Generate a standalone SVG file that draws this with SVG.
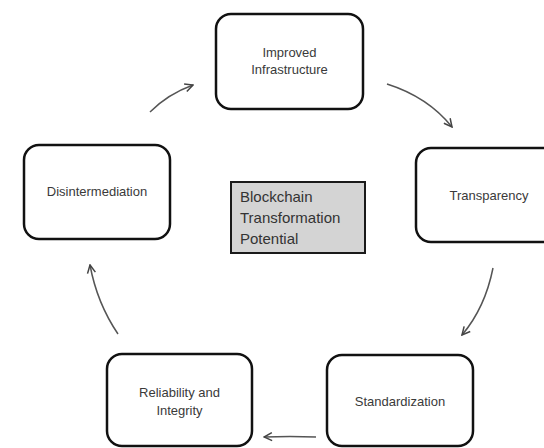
<svg xmlns="http://www.w3.org/2000/svg" width="544" height="448" viewBox="0 0 544 448">
<defs>
<style>
.node rect{fill:#fff;stroke:#111;stroke-width:2.5}
.lbl{font-family:"Liberation Sans",Arial,sans-serif;font-size:13px;fill:#3a3a3a;text-anchor:middle}
.ctr rect{fill:#d4d4d4;stroke:#1a1a1a;stroke-width:2}
.ctr text{font-family:"Liberation Sans",Arial,sans-serif;font-size:15px;fill:#333}
.conn path{fill:none;stroke:#555;stroke-width:1.5}
</style>
<marker id="ah" viewBox="0 0 10 10" refX="9" refY="5" markerWidth="10" markerHeight="10" markerUnits="userSpaceOnUse" orient="auto">
<path d="M1,1 L9,5 L1,9" fill="none" stroke="#444" stroke-width="1.5"/>
</marker>
</defs>
<rect width="544" height="448" fill="#fff"/>
<g id="improved-infrastructure" class="node">
<rect x="216" y="14" width="147" height="95" rx="15"/>
<text class="lbl" x="289.5" y="57">Improved</text>
<text class="lbl" x="289.5" y="74">Infrastructure</text>
</g>
<g id="transparency" class="node">
<rect x="416" y="148" width="146" height="94" rx="15"/>
<text class="lbl" x="489" y="200">Transparency</text>
</g>
<g id="standardization" class="node">
<rect x="327" y="355" width="146" height="91" rx="15"/>
<text class="lbl" x="400" y="406">Standardization</text>
</g>
<g id="reliability-integrity" class="node">
<rect x="107" y="354" width="145" height="92" rx="15"/>
<text class="lbl" x="179.5" y="397">Reliability and</text>
<text class="lbl" x="179.5" y="415">Integrity</text>
</g>
<g id="disintermediation" class="node">
<rect x="24" y="145" width="146" height="94" rx="15"/>
<text class="lbl" x="97" y="196">Disintermediation</text>
</g>
<g id="blockchain-center" class="ctr">
<rect x="231" y="182" width="134" height="71"/>
<text x="240" y="202">Blockchain</text>
<text x="240" y="223">Transformation</text>
<text x="240" y="244">Potential</text>
</g>
<g id="connectors" class="conn">
<path d="M387,84 Q428,97 452,127" marker-end="url(#ah)"/>
<path d="M493,268 Q485,308 462,335" marker-end="url(#ah)"/>
<path d="M316,437 Q290,436 264,437" marker-end="url(#ah)"/>
<path d="M118,334 Q97,303 90,265" marker-end="url(#ah)"/>
<path d="M150,112 Q168,94 193,85" marker-end="url(#ah)"/>
</g>
</svg>
